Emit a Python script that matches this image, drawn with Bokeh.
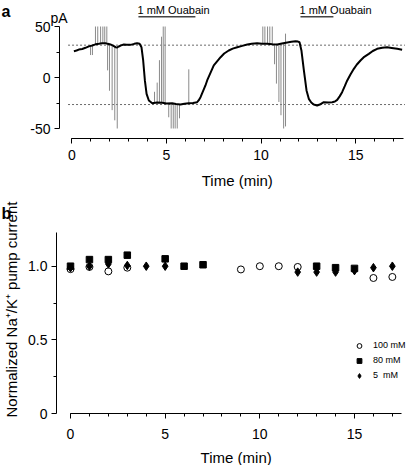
import numpy as np
from bokeh.plotting import figure
from bokeh.models import Range1d, FixedTicker, Label, Legend, LegendItem, LinearAxis
from bokeh.layouts import column
from bokeh.embed import file_html
from bokeh.resources import INLINE

FONT = "Liberation Sans"

# ---------------- Panel a: whole-cell current trace ----------------
trace_t = [0.11, 0.25, 0.37, 0.55, 0.72, 0.9, 1.08, 1.25, 1.43, 1.6, 1.78, 1.9, 2.04, 2.2,
           2.31, 2.4, 2.48, 2.6, 2.75, 2.9, 3.10, 3.3, 3.45, 3.58, 3.68, 3.77, 3.86, 3.95,
           4.07, 4.25, 4.5, 4.78, 5.0, 5.30, 5.5, 5.74, 5.95, 6.18, 6.4, 6.62, 6.70, 6.80,
           7.06, 7.15, 7.50, 7.86, 8.05, 8.29, 8.5, 8.74, 9.0, 9.27, 9.5, 9.79, 10.05, 10.32,
           10.6, 10.85, 11.1, 11.38, 11.6, 11.82, 11.95, 12.03, 12.13, 12.26, 12.40, 12.52,
           12.65, 12.78, 12.96, 13.1, 13.31, 13.55, 13.76, 13.9, 14.02, 14.15, 14.28, 14.42,
           14.55, 14.72, 14.90, 15.05, 15.25, 15.45, 15.69, 15.9, 16.13, 16.4, 16.66, 16.9,
           17.19, 17.45]
trace_pA = [25.8, 26.5, 27.4, 28.0, 29.1, 30.5, 31.4, 32.5, 33.0, 33.5, 33.6, 33.0, 32.4, 31.0,
            29.7, 29.5, 30.4, 31.5, 32.4, 32.0, 32.0, 33.0, 33.6, 33.0, 29.7, 16.7, -2.9, -16.0,
            -22.5, -25.2, -24.5, -24.8, -25.5, -25.2, -26.0, -26.5, -25.8, -25.2, -25.0, -24.2, -22.5, -19.3,
            -7.8, -2.9, 11.8, 19.9, 23.5, 26.5, 28.3, 29.7, 31.0, 32.4, 33.0, 33.6, 33.2, 33.0,
            32.6, 32.4, 33.3, 34.3, 35.0, 35.6, 35.2, 34.6, 26.5, 6.9, -12.7, -20.9,
            -24.5, -26.5, -27.5, -26.5, -24.2, -24.5, -24.2, -23.5, -21.9, -18.5, -14.4, -8.5,
            -2.9, 3.0, 8.5, 12.5, 16.7, 20.3, 23.2, 26.0, 28.1, 29.2, 29.7, 29.0,
            28.1, 27.2]

spike_t = [0.99, 1.09, 1.25, 1.37, 1.52, 1.64, 1.74, 1.85, 1.89, 1.99, 2.13, 2.27, 2.40,
           4.37, 4.51, 4.63, 4.74, 4.83, 4.93, 5.12, 5.25, 5.36, 5.46, 5.57, 5.69, 6.18,
           10.09, 10.20, 10.34, 10.46, 10.59, 10.71, 10.81, 10.94, 11.05, 11.19, 11.29]
spike_lo = [22, 22, 32, 32, 33, 33, 33, 33, 7, -13, -32, -42, -50,
            -25, -25, -25, -25, -25, -25, -39, -50, -50, -50, -50, -40, -25,
            33, 33, 33, 33, 33, 13, -6, -24, -37, -50, -48]
spike_hi = [30, 31, 50, 50, 50, 50, 50, 50, 33, 33, 32, 31, 30,
            -14, -5, 17, 40, 50, 50, -25, -25, -26, -26, -26, -26, 8,
            50, 50, 50, 50, 50, 33, 33, 33, 33, 33, 43]

baseline_levels = [31.7, -26.5]
baseline_t = [-0.2, 17.6]

ouabain_on = [3.52, 12.08]
ouabain_off = [6.53, 13.82]
ouabain_text = ["1 mM Ouabain", "1 mM Ouabain"]

a_xticks = [0, 5, 10, 15]
a_xminor = list(range(0, 18))
a_yticks = [-50, 0, 50]
a_yminor = [-25, 25]

# ---------------- Panel b: normalized pump current ----------------
circ_t = [0, 1, 2, 3, 9, 10, 11, 12, 16, 17]          # 100 mM
circ_v = [0.98, 0.995, 0.965, 0.99, 0.978, 1.0, 1.0, 0.995, 0.92, 0.927]
sq_t = [0, 1, 2, 3, 5, 6, 7, 13, 14, 15]              # 80 mM
sq_v = [1.0, 1.045, 1.045, 1.075, 1.05, 1.0, 1.01, 1.0, 0.99, 0.985]
dia_t = [0, 1, 2, 3, 4, 5, 12, 13, 14, 15, 16, 17]    # 5 mM
dia_v = [0.99, 1.0, 1.015, 1.005, 1.0, 1.0, 0.96, 0.96, 0.96, 0.97, 0.99, 1.0]

b_xticks = [0, 5, 10, 15]
b_xminor = list(range(0, 18))
b_yticks = [0, 0.5, 1.0]
b_ylabels = {0: "0", 0.5: "0.5", 1: "1.0"}
b_yminor = [0.25, 0.75]


def style_axis(ax, label_size="14px"):
    ax.axis_line_color = "black"
    ax.axis_line_width = 1
    ax.major_tick_line_color = "black"
    ax.minor_tick_line_color = "black"
    ax.major_tick_in = 0
    ax.minor_tick_in = 0
    ax.major_tick_out = 5
    ax.minor_tick_out = 3
    ax.major_label_text_font = FONT
    ax.major_label_text_font_size = label_size
    ax.major_label_text_color = "black"


def text(p, x, y, s, size, align="left", baseline="alphabetic", style="normal", angle=0.0):
    p.add_layout(Label(x=x, y=y, text=s, text_font=FONT, text_font_size=size,
                       text_font_style=style, text_align=align, text_baseline=baseline,
                       text_color="black", angle=angle))


# ----- figure a (frame covers the whole canvas; axes pinned with fixed_location) -----
pa = figure(width=407, height=190, output_backend="svg", toolbar_location=None,
            x_range=Range1d(-3.767, 17.734), y_range=Range1d(-110.78, 75.49),
            x_axis_location=None, y_axis_location=None,
            min_border=0, min_border_left=0, min_border_right=0,
            min_border_top=0, min_border_bottom=0)
pa.xgrid.visible = False
pa.ygrid.visible = False
pa.outline_line_color = None

xa = LinearAxis(fixed_location=-59.8, ticker=FixedTicker(ticks=a_xticks, minor_ticks=a_xminor),
                bounds=(0, 17.5), major_label_standoff=7)
style_axis(xa)
pa.add_layout(xa, "below")
ya = LinearAxis(fixed_location=-0.65, ticker=FixedTicker(ticks=a_yticks, minor_ticks=a_yminor),
                bounds=(-50, 50), major_label_standoff=4,
                major_label_overrides={-50: "-50", 0: "0", 50: "50"})
style_axis(ya)
ya.minor_tick_out = 3
pa.add_layout(ya, "left")

for lvl in baseline_levels:
    pa.line(baseline_t, [lvl, lvl], line_color="#444444", line_width=0.8, line_dash="2 2")

pa.segment(x0=spike_t, y0=spike_lo, x1=spike_t, y1=spike_hi,
           line_color="#8a8a8a", line_width=1)
pa.line(trace_t, trace_pA, line_color="black", line_width=2)

bar_y = 59.5
pa.segment(x0=ouabain_on, y0=[bar_y] * len(ouabain_on), x1=ouabain_off,
           y1=[bar_y] * len(ouabain_off), line_color="#444444", line_width=1.5)
for x0, s in zip(ouabain_on, ouabain_text):
    text(pa, x0 - 0.05, 65.7, s, "11px")

text(pa, -0.676, 58.3, "pA", "14px", align="center")
text(pa, -3.714, 64.7, "a", "16px", style="bold")
text(pa, 8.74, -101.0, "Time (min)", "15px", align="center", baseline="middle")

# ----- figure b -----
pb = figure(width=407, height=275, output_backend="svg", toolbar_location=None,
            x_range=Range1d(-3.698, 17.80), y_range=Range1d(-0.353, 1.514),
            x_axis_location=None, y_axis_location=None,
            min_border=0, min_border_left=0, min_border_right=0,
            min_border_top=0, min_border_bottom=0)
pb.xgrid.visible = False
pb.ygrid.visible = False
pb.outline_line_color = None

xb = LinearAxis(fixed_location=0, ticker=FixedTicker(ticks=b_xticks, minor_ticks=b_xminor),
                bounds=(0, 17.5), major_label_standoff=10)
style_axis(xb)
pb.add_layout(xb, "below")
yb = LinearAxis(fixed_location=-0.74, ticker=FixedTicker(ticks=b_yticks, minor_ticks=b_yminor),
                bounds=(0, 1.23), major_label_standoff=4, major_label_overrides=b_ylabels)
style_axis(yb)
pb.add_layout(yb, "left")

r_circ = pb.scatter(circ_t, circ_v, marker="circle", size=7, fill_color="white",
                    line_color="black", line_width=1)
r_sq = pb.scatter(sq_t, sq_v, marker="square", size=6.5, fill_color="black", line_color="black")
r_dia = pb.scatter(dia_t, dia_v, marker="diamond", size=8.5, fill_color="black", line_color="black")

legend = Legend(items=[LegendItem(label="100 mM", renderers=[r_circ]),
                       LegendItem(label="80 mM", renderers=[r_sq]),
                       LegendItem(label="5  mM", renderers=[r_dia])],
                location=(353, 83.5), padding=0, margin=0, spacing=2,
                glyph_width=12, glyph_height=13, label_height=13, label_standoff=8,
                label_text_font=FONT, label_text_font_size="9px", label_text_color="black",
                border_line_color=None, background_fill_alpha=0)
pb.add_layout(legend)

text(pb, -3.143, 0.706, "Normalized Na\u207a/K\u207a pump current", "15px",
     align="center", baseline="middle", angle=np.pi / 2)
text(pb, -3.645, 1.358, "b", "16px", style="bold")
text(pb, 8.75, -0.299, "Time (min)", "15px", align="center", baseline="middle")

layout = column(pa, pb)
open("out.html", "w").write(file_html(layout, INLINE))
